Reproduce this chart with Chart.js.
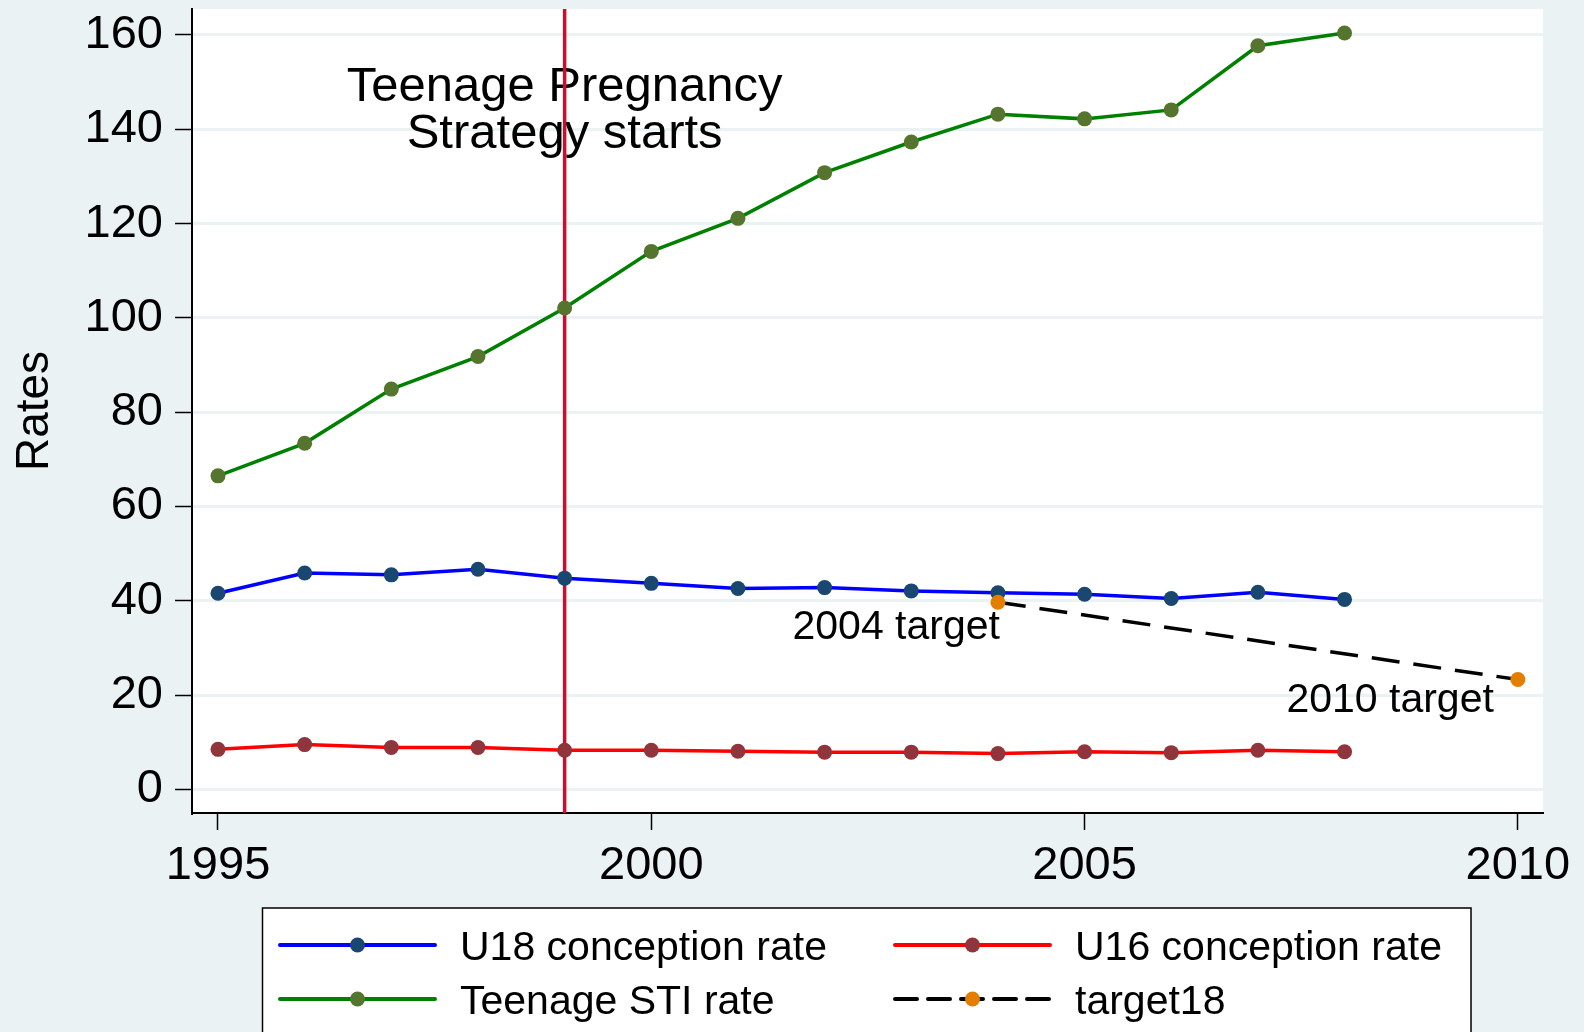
<!DOCTYPE html>
<html>
<head>
<meta charset="utf-8">
<script src="https://cdn.jsdelivr.net/npm/chart.js@4.4.1/dist/chart.umd.min.js"></script>
<style>
  html, body { margin: 0; padding: 0; background: #EAF2F3; }
</style>
</head>
<body>
<canvas id="rateChart" width="1584" height="1032"></canvas>
<script>
// Years on the x axis
const years = [1995, 1996, 1997, 1998, 1999, 2000, 2001, 2002, 2003, 2004, 2005, 2006, 2007, 2008];

// Series values
const u18Rate = [41.6, 45.9, 45.5, 46.7, 44.8, 43.7, 42.6, 42.8, 42.1, 41.7, 41.4, 40.5, 41.8, 40.3];
const u16Rate = [8.5, 9.5, 8.9, 8.9, 8.3, 8.3, 8.1, 7.9, 7.9, 7.6, 8.0, 7.8, 8.3, 8.0];
const stiRate = [66.5, 73.4, 84.9, 91.8, 102.1, 114.1, 121.1, 130.8, 137.3, 143.2, 142.2, 144.1, 157.7, 160.4];

const targetYears = [2004, 2010];
const target18 = [39.7, 23.3];
const targetLabels = ['2004 target', '2010 target'];

const seriesNames = ['U18 conception rate', 'U16 conception rate', 'Teenage STI rate', 'target18'];

// Tick labels
const xTicks = [1995, 2000, 2005, 2010];
const yTicks = [0, 20, 40, 60, 80, 100, 120, 140, 160];

// Vertical marker line and its note
const strategyYear = 1999;
const strategyNote = ['Teenage Pregnancy', 'Strategy starts'];
const strategyNoteY = 145.9;

const FONT = '"Liberation Sans", Arial, Helvetica, sans-serif';
const BG = '#EAF2F3';

function pts(xs, ys) {
    return xs.map((x, i) => ({ x: x, y: ys[i] }));
}

// Stata-like colours: line colour + marker colour
const styles = [
    { line: '#0000FF', marker: '#1A476F', dash: [] },
    { line: '#FF0000', marker: '#90353B', dash: [] },
    { line: '#008000', marker: '#55752F', dash: [] },
    { line: '#000000', marker: '#E37E00', dash: [28, 14] }
];

// per label nudge (px) from its point: right edge and baseline
const labelNudge = [{ dx: 2, dy: 37 }, { dx: -24, dy: 32 }];

// background + white plot region
const backdrop = {
    id: 'backdrop',
    beforeDraw(chart) {
        const ctx = chart.ctx;
        const a = chart.chartArea;
        ctx.save();
        ctx.fillStyle = BG;
        ctx.fillRect(0, 0, chart.width, chart.height);
        ctx.fillStyle = '#FFFFFF';
        ctx.fillRect(a.left, a.top, a.right - a.left, a.bottom - a.top);
        ctx.restore();
    }
};

// note text + red vertical line, under the series
const strategyLine = {
    id: 'strategyLine',
    beforeDatasetsDraw(chart) {
        const ctx = chart.ctx;
        const xs = chart.scales.x;
        const ys = chart.scales.y;
        const a = chart.chartArea;
        const px = xs.getPixelForValue(strategyYear);
        const py = ys.getPixelForValue(strategyNoteY);
        ctx.save();
        ctx.fillStyle = '#000';
        ctx.font = '49px ' + FONT;
        ctx.textAlign = 'center';
        ctx.textBaseline = 'alphabetic';
        strategyNote.forEach((t, i) => ctx.fillText(t, px, py + i * 46.5));
        ctx.strokeStyle = '#C8102E';
        ctx.lineWidth = 3.5;
        ctx.beginPath();
        ctx.moveTo(px, a.top);
        ctx.lineTo(px, a.bottom);
        ctx.stroke();
        ctx.restore();
    }
};

// "2004 target" / "2010 target" marker labels + legend box
const extras = {
    id: 'extras',
    afterDraw(chart) {
        const ctx = chart.ctx;
        const xs = chart.scales.x;
        const ys = chart.scales.y;
        ctx.save();
        ctx.fillStyle = '#000';
        ctx.font = '41px ' + FONT;
        ctx.textAlign = 'right';
        ctx.textBaseline = 'alphabetic';
        targetLabels.forEach((t, i) => {
            const px = xs.getPixelForValue(targetYears[i]);
            const py = ys.getPixelForValue(target18[i]);
            ctx.fillText(t, px + labelNudge[i].dx, py + labelNudge[i].dy);
        });

        // legend
        ctx.fillStyle = '#FFFFFF';
        ctx.fillRect(262.5, 908, 1208.5, 140);
        ctx.strokeStyle = '#000';
        ctx.lineWidth = 1.5;
        ctx.strokeRect(262.5, 908, 1208.5, 140);

        const cols = [{ x0: 280, x1: 435, tx: 460 }, { x0: 895, x1: 1050, tx: 1075 }];
        const rows = [945, 999];
        seriesNames.forEach((name, i) => {
            const c = cols[i % 2];
            const y = rows[Math.floor(i / 2)];
            const s = styles[i];
            ctx.strokeStyle = s.line;
            ctx.lineWidth = 4;
            ctx.lineCap = 'round';
            ctx.setLineDash(s.dash.length ? [22, 11] : []);
            ctx.beginPath();
            ctx.moveTo(c.x0, y);
            ctx.lineTo(c.x1, y);
            ctx.stroke();
            ctx.setLineDash([]);
            ctx.fillStyle = s.marker;
            ctx.beginPath();
            ctx.arc((c.x0 + c.x1) / 2, y, 7.5, 0, Math.PI * 2);
            ctx.fill();
            ctx.fillStyle = '#000';
            ctx.textAlign = 'left';
            ctx.font = '41px ' + FONT;
            ctx.fillText(name, c.tx, y + 14.5);
        });
        ctx.restore();
    }
};

function makeSet(i, data, order) {
    const s = styles[i];
    return {
        label: seriesNames[i],
        data: data,
        borderColor: s.line,
        borderWidth: 3.5,
        borderDash: s.dash,
        pointRadius: 7.5,
        pointBackgroundColor: s.marker,
        pointBorderColor: s.marker,
        pointBorderWidth: 0,
        tension: 0,
        order: order
    };
}

const ctx = document.getElementById('rateChart').getContext('2d');
const rateChart = new Chart(ctx, {
    type: 'line',
    data: {
        datasets: [
            makeSet(0, pts(years, u18Rate), 3),
            makeSet(1, pts(years, u16Rate), 2),
            makeSet(2, pts(years, stiRate), 1),
            makeSet(3, pts(targetYears, target18), 0)
        ]
    },
    options: {
        responsive: false,
        animation: false,
        devicePixelRatio: 1,
        events: [],
        layout: { padding: { left: 0, top: 9, right: 41, bottom: 134 } },
        plugins: {
            legend: { display: false },
            tooltip: { enabled: false }
        },
        scales: {
            x: {
                type: 'linear',
                min: 1994.70,
                max: 2010.29,
                afterBuildTicks: (s) => { s.ticks = xTicks.map(v => ({ value: v })); },
                afterFit: (s) => {
                    s.height = 85;
                    s.paddingLeft = 0; s.paddingRight = 0;
                },
                ticks: {
                    color: '#000',
                    font: { family: FONT, size: 47 },
                    padding: 8,
                    maxRotation: 0,
                    autoSkip: false,
                    callback: (v) => String(v)
                },
                grid: {
                    drawOnChartArea: false,
                    tickColor: '#000',
                    tickLength: 17,
                    tickWidth: 1.5
                },
                border: { display: true, color: '#000', width: 2 }
            },
            y: {
                type: 'linear',
                min: -5,
                max: 165.5,
                afterBuildTicks: (s) => { s.ticks = yTicks.map(v => ({ value: v })); },
                afterFit: (s) => {
                    s.width = 192;
                    s.paddingTop = 0; s.paddingBottom = 0;
                },
                ticks: {
                    color: '#000',
                    font: { family: FONT, size: 47 },
                    padding: 12,
                    autoSkip: false
                },
                grid: {
                    color: BG,
                    lineWidth: 3,
                    tickColor: '#000',
                    tickLength: 17,
                    tickWidth: 1.5
                },
                border: { display: true, color: '#000', width: 2 },
                title: {
                    display: true,
                    text: 'Rates',
                    color: '#000',
                    font: { family: FONT, size: 46, lineHeight: 1.2 },
                    padding: { top: 8, bottom: 0 }
                }
            }
        }
    },
    plugins: [backdrop, strategyLine, extras]
});
</script>
</body>
</html>
